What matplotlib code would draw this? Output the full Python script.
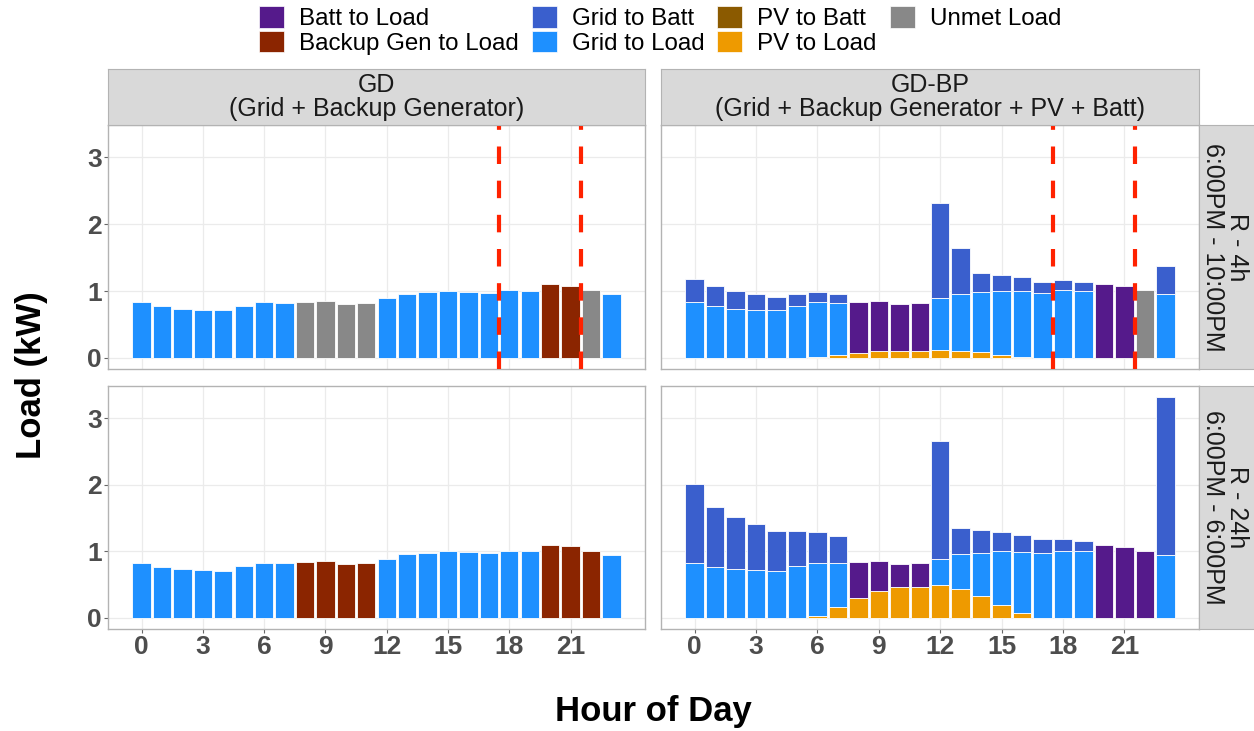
import matplotlib.pyplot as plt
from matplotlib.patches import Patch
import numpy as np

plt.rcParams['font.family'] = ['Liberation Sans', 'DejaVu Sans']

hours = list(range(24))

# hourly load (kW), same in every panel
load = [0.83, 0.77, 0.73, 0.72, 0.71, 0.78, 0.83, 0.82, 0.84, 0.85, 0.81, 0.82,
        0.89, 0.96, 0.98, 1.00, 0.99, 0.97, 1.01, 1.00, 1.10, 1.08, 1.01, 0.95]

# GD panels: which source serves the load each hour
G, U, B = 'Grid to Load', 'Unmet Load', 'Backup Gen to Load'
gd_4h_src = [G, G, G, G, G, G, G, G, U, U, U, U,
             G, G, G, G, G, G, G, G, B, B, U, G]
gd_24h_src = [G, G, G, G, G, G, G, G, B, B, B, B,
              G, G, G, G, G, G, G, G, B, B, B, G]

# GD-BP, R - 4h
bp4_pv_to_load = [0, 0, 0, 0, 0, 0, 0.01, 0.04, 0.075, 0.10, 0.11, 0.11,
                  0.12, 0.11, 0.085, 0.05, 0.015, 0, 0, 0, 0, 0, 0, 0]
bp4_grid_to_load = [0.83, 0.77, 0.73, 0.72, 0.71, 0.78, 0.82, 0.78, 0, 0, 0, 0,
                    0.77, 0.85, 0.90, 0.95, 0.98, 0.97, 1.01, 1.00, 0, 0, 0, 0.95]
bp4_batt_to_load = [0, 0, 0, 0, 0, 0, 0, 0, 0.765, 0.75, 0.70, 0.71,
                    0, 0, 0, 0, 0, 0, 0, 0, 1.10, 1.08, 0, 0]
bp4_unmet = [0] * 22 + [1.01, 0]
bp4_grid_to_batt = [0.35, 0.31, 0.27, 0.23, 0.20, 0.18, 0.16, 0.14, 0, 0, 0, 0,
                    1.43, 0.69, 0.28, 0.24, 0.21, 0.17, 0.15, 0.13, 0, 0, 0, 0.42]

# GD-BP, R - 24h
bp24_pv_to_load = [0, 0, 0, 0, 0, 0, 0.035, 0.16, 0.30, 0.41, 0.46, 0.46,
                   0.49, 0.44, 0.33, 0.19, 0.07, 0, 0, 0, 0, 0, 0, 0]
bp24_grid_to_load = [0.83, 0.77, 0.73, 0.72, 0.71, 0.78, 0.795, 0.66, 0, 0, 0, 0,
                     0.40, 0.52, 0.65, 0.81, 0.92, 0.97, 1.01, 1.00, 0, 0, 0, 0.95]
bp24_batt_to_load = [0, 0, 0, 0, 0, 0, 0, 0, 0.54, 0.44, 0.35, 0.36,
                     0, 0, 0, 0, 0, 0, 0, 0, 1.10, 1.07, 1.01, 0]
bp24_grid_to_batt = [1.18, 0.90, 0.79, 0.69, 0.60, 0.52, 0.46, 0.41, 0, 0, 0, 0,
                     1.77, 0.39, 0.34, 0.29, 0.25, 0.21, 0.18, 0.15, 0, 0, 0, 2.37]

outage_lines = [17.5, 21.5]

categories = ['Batt to Load', 'Backup Gen to Load', 'Grid to Batt', 'Grid to Load',
              'PV to Batt', 'PV to Load', 'Unmet Load']
colors = {'Batt to Load': '#551A8B', 'Backup Gen to Load': '#8B2500',
          'Grid to Batt': '#3A5FCD', 'Grid to Load': '#1E90FF',
          'PV to Batt': '#8B5A00', 'PV to Load': '#EE9A00', 'Unmet Load': '#888888'}
stack_order = ['Unmet Load', 'PV to Load', 'PV to Batt', 'Grid to Load',
               'Grid to Batt', 'Batt to Load', 'Backup Gen to Load']


def gd_series(src):
    return {c: [l if s == c else 0 for l, s in zip(load, src)] for c in categories}


panels = [
    [gd_series(gd_4h_src),
     {'PV to Load': bp4_pv_to_load, 'Grid to Load': bp4_grid_to_load,
      'Batt to Load': bp4_batt_to_load, 'Unmet Load': bp4_unmet,
      'Grid to Batt': bp4_grid_to_batt}],
    [gd_series(gd_24h_src),
     {'PV to Load': bp24_pv_to_load, 'Grid to Load': bp24_grid_to_load,
      'Batt to Load': bp24_batt_to_load, 'Grid to Batt': bp24_grid_to_batt}],
]
col_titles = ['GD\n(Grid + Backup Generator)',
              'GD-BP\n(Grid + Backup Generator + PV + Batt)']
row_titles = ['R - 4h\n6:00PM - 10:00PM', 'R - 24h\n6:00PM - 6:00PM']

W, H = 1254, 731
fig = plt.figure(figsize=(W / 100, H / 100), dpi=100)

col_x = [(108, 645), (661, 1199)]
row_y = [(125, 369), (386, 629)]
border = '#B3B3B3'
tick_col = '#4D4D4D'


def fr(x0, y0, x1, y1):
    return [x0 / W, 1 - y1 / H, (x1 - x0) / W, (y1 - y0) / H]


for r in range(2):
    for c in range(2):
        x0, x1 = col_x[c]
        y0, y1 = row_y[r]
        ax = fig.add_axes(fr(x0, y0, x1, y1))
        series = panels[r][c]
        bottom = np.zeros(24)
        for cat in stack_order:
            if cat not in series:
                continue
            vals = np.array(series[cat], dtype=float)
            m = vals > 0
            ax.bar(np.array(hours)[m], vals[m], bottom=bottom[m], width=0.9,
                   color=colors[cat], edgecolor='white', linewidth=0.6, zorder=2)
            bottom += vals
        if r == 0:
            for xv in outage_lines:
                ax.axvline(xv, color='#FF2200', lw=3.0, ls=(0, (4.2, 4.0)), zorder=3)
        ax.set_xlim(-1.645, 24.645)
        ax.set_ylim(-0.166, 3.484)
        ax.set_xticks(range(0, 22, 3))
        ax.set_yticks([0, 1, 2, 3])
        ax.grid(True, color='#EBEBEB', lw=0.9, zorder=0)
        ax.set_axisbelow(True)
        for sp in ax.spines.values():
            sp.set_color(border)
            sp.set_linewidth(1.0)
        ax.tick_params(colors='#666666', length=3, width=0.8, pad=1.5,
                       labelcolor=tick_col, labelsize=19)
        for lab in ax.get_xticklabels() + ax.get_yticklabels():
            lab.set_fontweight('bold')
        if r == 0:
            ax.tick_params(axis='x', length=0, labelbottom=False)
        if c == 1:
            ax.tick_params(axis='y', length=0, labelleft=False)

# column strips
for c in range(2):
    x0, x1 = col_x[c]
    sax = fig.add_axes(fr(x0, 69, x1, 125))
    sax.set_facecolor('#D9D9D9')
    sax.set_xticks([])
    sax.set_yticks([])
    for sp in sax.spines.values():
        sp.set_color(border)
    sax.text(0.5, 0.5, col_titles[c], ha='center', va='center', fontsize=18,
             color='#1A1A1A', linespacing=1.0, transform=sax.transAxes)

# row strips
for r in range(2):
    y0, y1 = row_y[r]
    sax = fig.add_axes(fr(1199, y0, 1260, y1))
    sax.set_facecolor('#D9D9D9')
    sax.set_xticks([])
    sax.set_yticks([])
    for sp in sax.spines.values():
        sp.set_color(border)
    sax.text(26 / 61, 0.5, row_titles[r], ha='center', va='center', fontsize=18,
             color='#1A1A1A', rotation=270, linespacing=1.0,
             multialignment='center', transform=sax.transAxes)

fig.text(32 / W, 1 - 375 / H, 'Load (kW)', rotation=90, ha='center', va='center',
         fontsize=25, fontweight='bold')
fig.text(653 / W, 1 - 712 / H, 'Hour of Day', ha='center', va='center',
         fontsize=25, fontweight='bold')

handles = [Patch(facecolor=colors[c], edgecolor='white', linewidth=0.5) for c in categories]
fig.legend(handles, categories, ncol=4, loc='upper center',
           bbox_to_anchor=(660 / W, 1 - 6 / H), frameon=False, fontsize=17.4,
           handlelength=1.03, handleheight=1.0, handletextpad=0.62,
           columnspacing=0.54, labelspacing=0.02, borderaxespad=0, borderpad=0)

fig.savefig('out.png', dpi=100)
